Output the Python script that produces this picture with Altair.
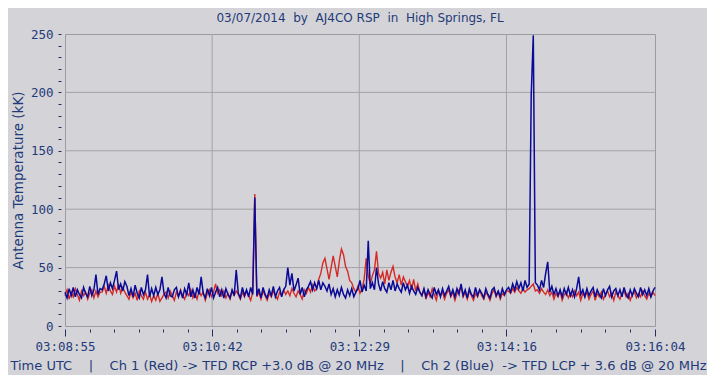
import altair as alt
import pandas as pd

TITLE = "03/07/2014  by  AJ4CO RSP  in  High Springs, FL"
Y_TITLE = "Antenna Temperature (kK)"
X_TITLE = "Time UTC    |    Ch 1 (Red) -> TFD RCP +3.0 dB @ 20 MHz    |    Ch 2 (Blue)  -> TFD LCP + 3.6 dB @ 20 MHz"

TICK_SECONDS = [0, 107, 214, 321, 429]
TICK_LABELS = ["03:08:55", "03:10:42", "03:12:29", "03:14:16", "03:16:04"]
X_GRID = [107, 214, 321]
Y_GRID = [50, 100, 150, 200]
SAMPLE_STEP = 1.5  # seconds between samples

RED = [
    26, 31, 23, 29, 25, 32, 27, 22, 30, 26, 29, 23, 28, 31, 24,
    30, 25, 29,
    29, 34, 28, 35, 30, 27, 34, 29, 36, 28, 33, 29,
    26, 23, 29, 24, 28, 22, 30, 26, 23, 29,
    23, 27, 21, 26, 22, 28, 21, 24, 27,
    29, 24, 30, 26, 22, 29, 25, 31, 26, 23, 29,
    26, 31, 24, 28, 23, 30, 26, 29, 22, 28, 31, 25, 29,
    36,
    28, 31, 26, 30, 24, 28, 23, 30, 26,
    30,
    27, 23, 29, 25, 30, 26, 22, 29,
    113,
    25, 29, 23, 30, 26, 22, 28, 25, 30, 26, 23, 29, 26, 31, 27,
    30, 26, 32, 28, 25, 30, 27, 23, 31, 28,
    33, 29, 35, 30,
    32, 40, 45, 54, 58, 49, 40, 50, 60, 51, 42, 56, 66, 61, 51, 47, 39, 37, 32,
    29, 34, 28, 32,
    40, 58, 43, 36, 43, 48, 64, 45, 41,
    46, 36, 48, 39, 46, 51, 42,
    37, 44, 35, 42, 38, 34,
    39, 31, 40, 30, 36, 29,
    26, 31, 23, 29, 25, 32, 27, 22, 30, 26, 29, 23, 28, 31, 25, 29, 22, 28, 31, 33,
    25, 29, 23, 30, 26, 22, 28, 25, 31, 26, 23, 29, 26, 22, 28, 31, 25, 29, 23, 28,
    26, 30,
    30, 28, 32, 29, 33, 30, 28, 32, 29, 31,
    32, 34, 36, 30,
    31, 28, 32, 29, 27, 31,
    26, 29, 23, 28, 25, 30, 22, 27, 29, 24, 28, 25, 30, 26, 29, 22, 28, 25, 29, 23,
    27, 30, 22, 28, 25, 29, 23, 27, 30, 25, 28, 22, 29, 26, 23, 28, 30, 25, 28, 22,
    27, 29, 24, 28, 25, 30, 26, 23, 28, 25, 29, 26,
]

BLUE = [
    29, 24, 32, 26, 33, 25, 31, 27, 24, 33, 28, 25, 34, 26, 31,
    44, 27, 32,
    31, 36, 43, 30, 37, 32, 39, 47, 31, 36, 30, 38,
    34, 26, 32, 25, 35, 28, 24, 33, 27, 31,
    44,
    25, 32, 26, 33, 27, 31,
    42,
    28, 24, 33, 26, 25, 31, 33, 25, 30, 24, 32, 27,
    37,
    25, 31, 24, 33, 27,
    42,
    28, 24, 32, 26, 33, 24, 29, 33, 25, 31, 24, 32, 27, 24, 31, 26,
    48,
    28, 24, 33, 26, 31, 25, 33, 27,
    110,
    26, 32, 24, 33, 27, 24, 31, 26, 34, 25, 30, 33, 25, 31, 34,
    50, 35, 45, 30, 35, 41, 27, 33, 25, 31,
    34, 38, 31, 37, 32, 39, 31, 37, 34, 30, 36,
    27, 32, 25, 31, 26, 33, 27, 24, 31, 26, 32, 25, 29, 32,
    39, 29, 35, 30,
    73, 32, 37, 31,
    50,
    36, 30, 38, 32, 29, 37, 31, 39, 30, 36, 32, 29, 37, 31, 35, 28, 34, 30, 27, 33, 29,
    26, 32, 25, 31, 27, 24, 33, 27, 31, 25, 32, 26, 30, 34, 26, 31, 25, 32, 27, 36,
    26, 31, 24, 32, 27, 25, 33, 26, 31, 28, 24, 32, 27, 24, 31, 33, 26, 30, 25, 32,
    27, 31,
    33, 29, 36, 31, 38, 32, 37, 30, 39, 33,
    36, 198, 249, 37,
    35, 31, 39, 33, 45,
    55,
    29, 34, 27, 32, 26, 31, 25, 32, 27, 33, 26, 31, 25, 32,
    42,
    27, 31, 25, 32, 26, 30, 33, 25, 31, 27, 24, 32, 26, 31, 34, 25, 30, 32, 26, 31,
    25, 33, 27, 24, 31, 26, 32, 28, 25, 33, 27, 31, 26, 32, 25, 30, 33,
]

assert len(RED) == len(BLUE) == 287, (len(RED), len(BLUE))

NAVY = "#1f3a78"
TICK = "#26305c"
BG = "#d4d4d8"
GRID = "#a3a3a6"
SANS = "DejaVu Sans"
MONO = "DejaVu Sans Mono"
NB = "\u00a0"

times = [i * SAMPLE_STEP for i in range(len(RED))]
red_df = pd.DataFrame({"t": times, "v": RED})
blue_df = pd.DataFrame({"t": times, "v": BLUE})

x_ticks = []
for a, b in zip(TICK_SECONDS[:-1], TICK_SECONDS[1:]):
    x_ticks.append(a)
    x_ticks.extend(a + (b - a) * j / 6 for j in range(1, 6))
x_ticks.append(TICK_SECONDS[-1])

major_test = f"indexof({TICK_SECONDS}, datum.value) >= 0"
label_expr = (f"indexof({TICK_SECONDS}, datum.value) >= 0 ? "
              f"{TICK_LABELS}[indexof({TICK_SECONDS}, datum.value)] : ''")

x_scale = alt.Scale(domain=[TICK_SECONDS[0], TICK_SECONDS[-1]], nice=False, zero=False)
y_scale = alt.Scale(domain=[0, 250], nice=False)

x_axis = alt.Axis(
    values=x_ticks, labelExpr=label_expr,
    tickSize={"condition": {"test": major_test, "value": 7}, "value": 3},
    tickColor=TICK, offset=3, labelPadding=4, labelFont=MONO, labelFontSize=12.5,
    labelColor=NAVY, labelFlush=False, labelOverlap=False,
    title=X_TITLE.replace(" ", NB), titleFont=SANS, titleFontSize=13, titleColor=NAVY,
    titleFontWeight="normal", titleX=293, titleY=36, titleAlign="center",
    titleBaseline="middle", grid=False, domain=False,
)
y_axis = alt.Axis(
    values=list(range(0, 251, 10)),
    labelExpr="datum.value % 50 == 0 ? datum.label : ''",
    tickSize=3, tickColor=TICK, offset=4, labelPadding=5, labelFont=MONO,
    labelFontSize=12.5, labelColor=NAVY, labelOverlap=False,
    title=Y_TITLE.replace(" ", NB), titleFont=SANS, titleFontSize=13.5, titleColor=NAVY,
    titleFontWeight="normal", titleX=-43, titleY=146, titleAngle=270,
    titleAlign="center", titleBaseline="middle", grid=False, domain=False,
)

xgrid = alt.Chart(pd.DataFrame({"t": X_GRID})).mark_rule(color=GRID, strokeWidth=1).encode(
    x=alt.X("t:Q", scale=x_scale, axis=x_axis)
)
ygrid = alt.Chart(pd.DataFrame({"v": Y_GRID})).mark_rule(color=GRID, strokeWidth=1).encode(
    y=alt.Y("v:Q", scale=y_scale, axis=y_axis)
)
red = alt.Chart(red_df).mark_line(color="#d42a26", strokeWidth=1.4).encode(
    x=alt.X("t:Q", scale=x_scale, axis=x_axis),
    y=alt.Y("v:Q", scale=y_scale, axis=y_axis),
)
blue = alt.Chart(blue_df).mark_line(color="#0a0a96", strokeWidth=1.5).encode(
    x=alt.X("t:Q", scale=x_scale, axis=x_axis),
    y=alt.Y("v:Q", scale=y_scale, axis=y_axis),
)
title_text = alt.Chart(pd.DataFrame({"label": [TITLE.replace(" ", NB)]})).mark_text(
    font=SANS, fontSize=12, color=NAVY, align="center", baseline="middle"
).encode(
    text="label:N", x=alt.value(295), y=alt.value(-16)
)

chart = alt.layer(xgrid, ygrid, red, blue, title_text).properties(
    width=590, height=292,
    autosize=alt.AutoSizeParams(type="none"),
    padding={"left": 57, "top": 26, "right": 52, "bottom": 49},
    background=BG,
).configure_view(stroke="#9c9c9f", strokeWidth=1)

chart.save("out.html", embed_options={"renderer": "svg", "actions": False})
